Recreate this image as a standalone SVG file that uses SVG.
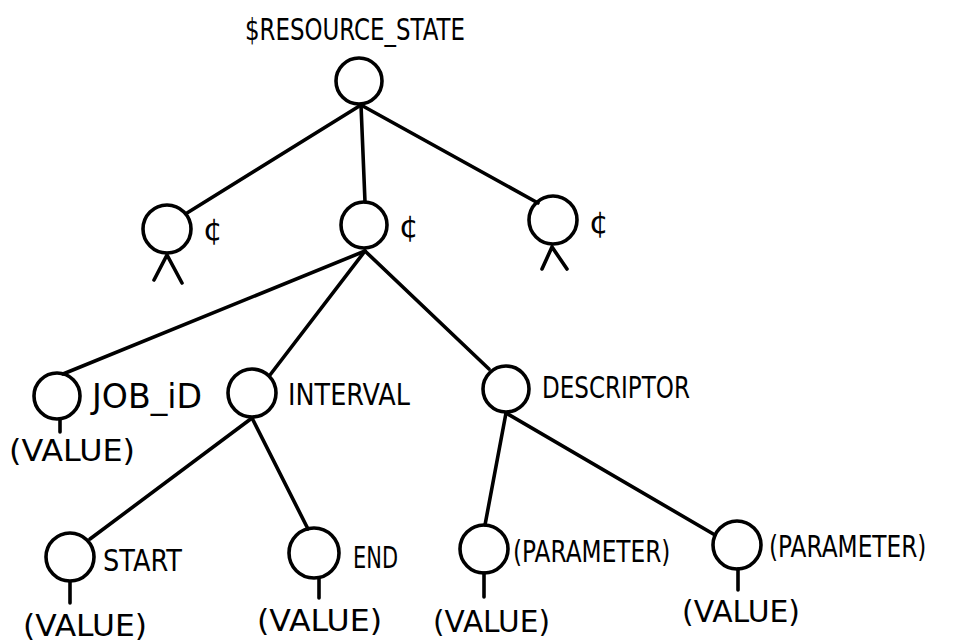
<svg xmlns="http://www.w3.org/2000/svg" width="964" height="644" viewBox="0 0 964 644">
<style>
.n{fill:none;stroke:#000;stroke-width:3.6}
.e{stroke:#000;stroke-width:3.6;stroke-linecap:round;fill:none}
.t{font-family:"DejaVu Sans","Liberation Sans",sans-serif;font-size:31px;fill:#000}
</style>
<rect width="964" height="644" fill="#fff"/>
<g id="connectors">
<line class="e" x1="361" y1="105" x2="187" y2="213"/>
<line class="e" x1="361" y1="105" x2="365" y2="202"/>
<line class="e" x1="361" y1="105" x2="538" y2="203"/>
<polyline class="e" points="154,280 167,255 182,283"/>
<polyline class="e" points="542,269 552,247 567,269"/>
<line class="e" x1="365" y1="251" x2="63" y2="374"/>
<line class="e" x1="365" y1="251" x2="270" y2="375"/>
<line class="e" x1="365" y1="251" x2="489" y2="369"/>
<line class="e" x1="252" y1="418" x2="90" y2="539"/>
<line class="e" x1="252" y1="418" x2="308" y2="529"/>
<line class="e" x1="506" y1="413" x2="485" y2="525"/>
<line class="e" x1="506" y1="413" x2="715" y2="535"/>
<line class="e" x1="60" y1="420" x2="60" y2="432"/>
<line class="e" x1="70" y1="582" x2="70" y2="603"/>
<line class="e" x1="319" y1="578" x2="319" y2="598"/>
<line class="e" x1="484" y1="573" x2="484" y2="597"/>
<line class="e" x1="738" y1="569" x2="738" y2="590"/>
</g>
<g id="root"><circle class="n" cx="359" cy="81" r="23"/><text class="t" x="245" y="40" textLength="220" lengthAdjust="spacingAndGlyphs">$RESOURCE_STATE</text></g>
<g id="cent-left"><circle class="n" cx="167" cy="229" r="24"/><text class="t" x="203" y="240">¢</text></g>
<g id="cent-mid"><circle class="n" cx="364" cy="225" r="23"/><text class="t" x="399" y="237">¢</text></g>
<g id="cent-right"><circle class="n" cx="553" cy="220" r="24"/><text class="t" x="589" y="233">¢</text></g>
<g id="job-id"><circle class="n" cx="57" cy="396" r="23"/><text class="t" x="92" y="408" style="font-size:33px" textLength="110" lengthAdjust="spacingAndGlyphs">JOB_iD</text><text class="t" x="9" y="461" textLength="126" lengthAdjust="spacingAndGlyphs">(VALUE)</text></g>
<g id="interval"><circle class="n" cx="252" cy="393" r="24"/><text class="t" x="288" y="405" textLength="122" lengthAdjust="spacingAndGlyphs">INTERVAL</text></g>
<g id="descriptor"><circle class="n" cx="506" cy="389" r="23"/><text class="t" x="542" y="398" textLength="148" lengthAdjust="spacingAndGlyphs">DESCRIPTOR</text></g>
<g id="start"><circle class="n" cx="70" cy="557" r="24"/><text class="t" x="103" y="571" textLength="79" lengthAdjust="spacingAndGlyphs">START</text><text class="t" x="23" y="636" textLength="124" lengthAdjust="spacingAndGlyphs">(VALUE)</text></g>
<g id="end"><circle class="n" cx="314" cy="553" r="25"/><text class="t" x="353" y="568" textLength="45" lengthAdjust="spacingAndGlyphs">END</text><text class="t" x="257" y="631" textLength="125" lengthAdjust="spacingAndGlyphs">(VALUE)</text></g>
<g id="param1"><circle class="n" cx="484" cy="549" r="24"/><text class="t" transform="translate(513,562) scale(0.75,1)">(PARAMETER)</text><text class="t" x="433" y="632" textLength="117" lengthAdjust="spacingAndGlyphs">(VALUE)</text></g>
<g id="param2"><circle class="n" cx="737" cy="545" r="24"/><text class="t" transform="translate(769,557) scale(0.75,1)">(PARAMETER)</text><text class="t" x="682" y="622" textLength="118" lengthAdjust="spacingAndGlyphs">(VALUE)</text></g>
</svg>
